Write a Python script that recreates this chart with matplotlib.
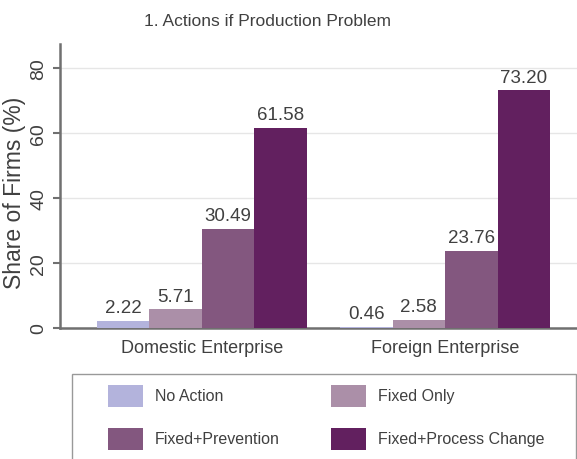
import numpy as np
import matplotlib
matplotlib.use('Agg')
import matplotlib.pyplot as plt
from matplotlib.patches import Rectangle

plt.rcParams['font.family'] = ['Liberation Sans', 'DejaVu Sans']

groups = ['Domestic Enterprise', 'Foreign Enterprise']
series = ['No Action', 'Fixed Only', 'Fixed+Prevention', 'Fixed+Process Change']
values = {
    'No Action': [2.22, 0.46],
    'Fixed Only': [5.71, 2.58],
    'Fixed+Prevention': [30.49, 23.76],
    'Fixed+Process Change': [61.58, 73.20],
}
colors = ['#b3b3dc', '#ab8fa8', '#83577f', '#62205f']
yticks = [0, 20, 40, 60, 80]

W, H = 577, 460
fig = plt.figure(figsize=(W / 100, H / 100), dpi=100)
ax = fig.add_axes([60 / W, 1 - 329 / H, 517 / W, 284 / H])

x = np.arange(len(groups))
w = 0.216
for i, s in enumerate(series):
    pos = x + (i - 1.5) * w
    bars = ax.bar(pos, values[s], width=w, color=colors[i], zorder=3)
    for b, v in zip(bars, values[s]):
        ax.text(b.get_x() + b.get_width() / 2, v + 1.5, f'{v:.2f}',
                ha='center', va='bottom', fontsize=13.5, color='#404040')

ax.set_xlim(-0.584, 1.543)
ax.set_ylim(0, 87.5)
ax.set_yticks(yticks)
ax.set_yticklabels([str(t) for t in yticks], rotation=90, va='center',
                   fontsize=14, color='#404040')
ax.set_xticks(x)
ax.set_xticklabels(groups, fontsize=13, color='#404040')
ax.tick_params(axis='x', length=0, pad=8)
ax.tick_params(axis='y', length=5, width=1.5, color='#707070', pad=4)
ax.grid(axis='y', color='#e6e6e6', linewidth=1, zorder=0)
ax.spines['top'].set_visible(False)
ax.spines['right'].set_visible(False)
for sp in ['left', 'bottom']:
    ax.spines[sp].set_color('#707070')
    ax.spines[sp].set_linewidth(1.8)
ax.set_ylabel('Share of Firms (%)', fontsize=16.5, color='#404040')
ax.yaxis.set_label_coords(-0.066, 0.48)
fig.text(267 / W, 1 - 22 / H, '1. Actions if Production Problem',
         ha='center', va='center', fontsize=12.5, color='#404040')

# legend box drawn by hand: two columns, row-wise order
fig.patches.append(Rectangle((72 / W, -0.01), 504 / W, 0.01 + 85 / H,
                             transform=fig.transFigure, facecolor='white',
                             edgecolor='#999999', linewidth=1.0))
col_x = [108, 331]
row_y = [397, 440]
for i, s in enumerate(series):
    px = col_x[i % 2]
    py = row_y[i // 2]
    fig.patches.append(Rectangle((px / W, 1 - (py + 11) / H), 35 / W, 22 / H,
                                 transform=fig.transFigure,
                                 facecolor=colors[i], edgecolor='none'))
    fig.text((px + 47) / W, 1 - py / H, s, ha='left', va='center',
             fontsize=11.5, color='#404040')

fig.savefig('out.png', dpi=100)
